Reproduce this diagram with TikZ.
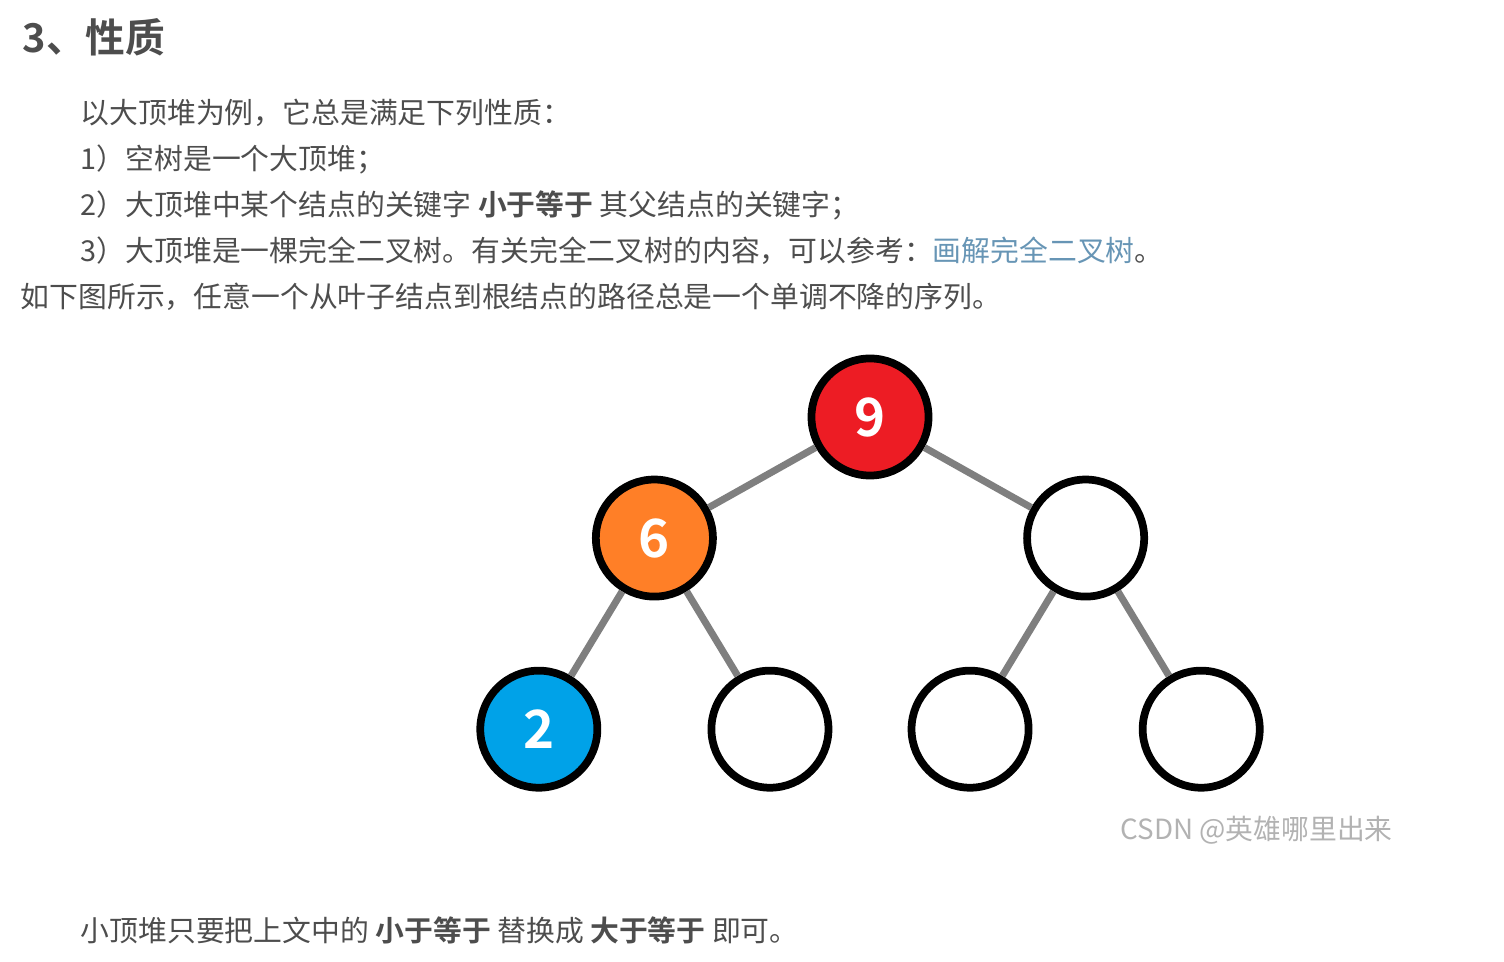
\documentclass[tikz,border=0pt]{standalone}
\usepackage{fontspec}
\setmainfont{Noto Sans CJK SC}[BoldFont={Noto Sans CJK SC Bold}]
\usepackage{xcolor}
\usetikzlibrary{positioning}

\definecolor{txtgray}{HTML}{4D4D4D}
\definecolor{linkblue}{HTML}{6795B5}
\definecolor{heapred}{HTML}{ED1C24}
\definecolor{heaporange}{HTML}{FF7F27}
\definecolor{heapblue}{HTML}{00A2E8}
\definecolor{edgegray}{HTML}{7F7F7F}

\begin{document}
\begin{tikzpicture}[
    x=0.01cm, y=-0.01cm,
    line/.style={anchor=west, inner sep=0pt, text=txtgray, font=\fontsize{8.2pt}{10pt}\selectfont},
    title/.style={anchor=west, inner sep=0pt, text=txtgray, font=\fontsize{11.3pt}{13pt}\selectfont\bfseries},
    mark text/.style={anchor=west, inner sep=0pt, text=black!30, font=\fontsize{7.9pt}{9pt}\selectfont},
    level 1/.style={sibling distance=4.31cm, level distance=1.21cm},
    level 2/.style={sibling distance=2.31cm, level distance=1.91cm},
    edge from parent/.style={draw=edgegray, line width=2pt},
    heapnode/.style={circle, draw=black, line width=2.2pt, fill=white, minimum size=1.17cm, inner sep=0pt,
        text=white, font=\fontsize{15pt}{15pt}\selectfont\bfseries}
]
    \useasboundingbox (0,0) rectangle (1504,962);

    % text above the tree
    \node[title] (head) at (22,37) {3、性质};
    \node[line] (intro) at (80,113) {以大顶堆为例，它总是满足下列性质：};
    \node[line] (prop1) at (80,159) {1）空树是一个大顶堆；};
    \node[line] (prop2) at (80,205) {2）大顶堆中某个结点的关键字 \textbf{小于等于} 其父结点的关键字；};
    \node[line] (prop3) at (80,251) {3）大顶堆是一棵完全二叉树。有关完全二叉树的内容，可以参考：\textcolor{linkblue}{画解完全二叉树}。};
    \node[line] (note) at (20,297) {如下图所示，任意一个从叶子结点到根结点的路径总是一个单调不降的序列。};

    % the heap
    \node[heapnode, fill=heapred] (root) at (870,417) {9}
        child {node[heapnode, fill=heaporange] (six) {6}
            child {node[heapnode, fill=heapblue] (two) {2}}
            child {node[heapnode] (leafb) {}}
        }
        child {node[heapnode] (right) {}
            child {node[heapnode] (leafc) {}}
            child {node[heapnode] (leafd) {}}
        };

    \node[mark text] (wm) at (1120,830) {CSDN @英雄哪里出来};
    \node[line] (tail) at (80,930) {小顶堆只要把上文中的 \textbf{小于等于} 替换成 \textbf{大于等于} 即可。};
\end{tikzpicture}
\end{document}
